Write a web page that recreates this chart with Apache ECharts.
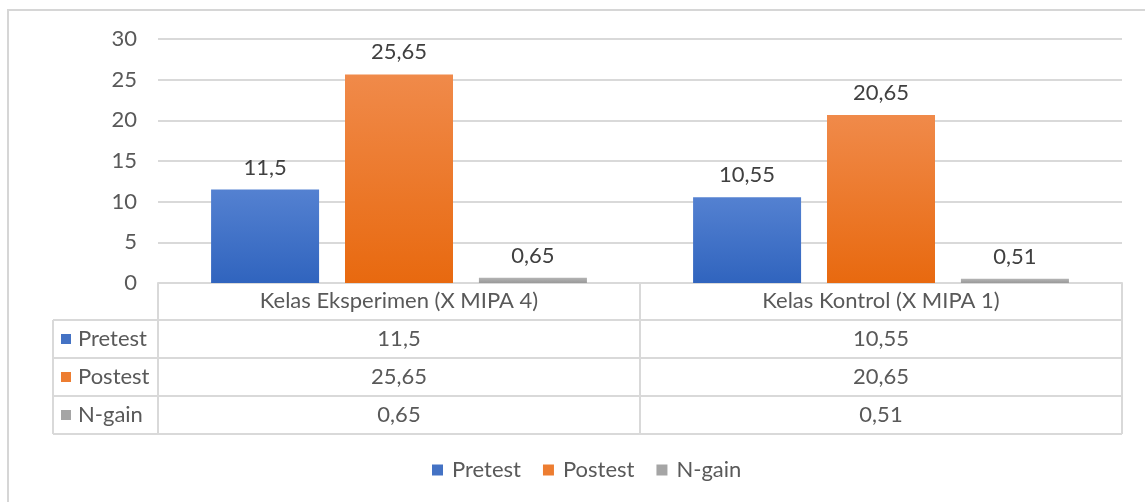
<!DOCTYPE html>
<html>
<head>
<meta charset="utf-8">
<title>Pretest Postest N-gain</title>
<script src="https://cdn.jsdelivr.net/npm/echarts@6/dist/echarts.min.js"></script>
<style>
    html, body { margin: 0; padding: 0; background: #fff; }
    #chart { width: 1145px; height: 502px; }
</style>
</head>
<body>
<div id="chart"></div>
<script>
    var categories = ['Kelas Eksperimen (X MIPA 4)', 'Kelas Kontrol (X MIPA 1)'];
    var seriesNames = ['Pretest', 'Postest', 'N-gain'];
    var pretest = [11.5, 10.55];
    var postest = [25.65, 20.65];
    var ngain = [0.65, 0.51];
    var yMin = 0, yMax = 30, yStep = 5;

    var colors = ['#4472c4', '#ed7d31', '#a5a5a5'];
    var gradTop = ['#5481d1', '#f08a4a', '#b4b4b4'];
    var gradBottom = ['#3064be', '#e8690f', '#999999'];
    var font = 'Lato, "Open Sans", sans-serif';
    var fontSize = 22;
    var textColor = '#595959';
    var lineColor = '#d9d9d9';

    function fmt(v) { return String(v).replace('.', ','); }

    var chart = echarts.init(document.getElementById('chart'));

    var values = [pretest, postest, ngain];
    var series = seriesNames.map(function (name, i) {
        return {
            name: name,
            type: 'bar',
            barWidth: 108,
            barGap: '24%',
            data: values[i],
            itemStyle: {
                color: new echarts.graphic.LinearGradient(0, 0, 0, 1, [
                    { offset: 0, color: gradTop[i] },
                    { offset: 1, color: gradBottom[i] }
                ])
            },
            label: {
                show: true,
                position: 'top',
                distance: 11,
                formatter: function (p) { return fmt(p.value); },
                fontFamily: font,
                fontSize: fontSize,
                color: '#404040'
            }
        };
    });

    chart.setOption({
        animation: false,
        grid: { left: 158, right: 23, top: 39, bottom: 219 },
        legend: {
            data: seriesNames.map(function (n, i) {
                return { name: n, itemStyle: { color: colors[i] } };
            }),
            top: 454,
            left: 427,
            icon: 'rect',
            itemWidth: 11,
            itemHeight: 11,
            itemGap: 22,
            textStyle: { fontFamily: font, fontSize: fontSize, color: textColor, padding: [0, 0, 0, 4] }
        },
        xAxis: {
            type: 'category',
            data: categories,
            axisLine: { lineStyle: { color: lineColor, width: 2 } },
            axisTick: { show: false },
            axisLabel: { margin: 7, fontFamily: font, fontSize: fontSize, color: textColor }
        },
        yAxis: {
            type: 'value',
            min: yMin, max: yMax, interval: yStep,
            axisLine: { show: false },
            axisTick: { show: false },
            axisLabel: { margin: 21, fontFamily: font, fontSize: fontSize, color: textColor },
            splitLine: { lineStyle: { color: lineColor, width: 2 } }
        },
        series: series
    });

    // tabel data di bawah grafik
    function drawTable() {
        var c0 = chart.convertToPixel({ xAxisIndex: 0 }, categories[0]);
        var c1 = chart.convertToPixel({ xAxisIndex: 0 }, categories[1]);
        var step = c1 - c0;
        var left = c0 - step / 2, right = c1 + step / 2;
        var top = chart.convertToPixel({ yAxisIndex: 0 }, 0);
        var headerH = 37, rowH = 38, labelLeft = 53;
        var bottom = top + headerH + rowH * seriesNames.length;
        var els = [];
        var ls = { stroke: lineColor, lineWidth: 2 };

        // bingkai luar
        els.push({ type: 'rect', shape: { x: 8, y: 10, width: 1160, height: 520 }, style: { fill: null, stroke: '#d6d6d6', lineWidth: 2 } });

        // garis vertikal
        [left, left + step, right].forEach(function (x) {
            els.push({ type: 'line', shape: { x1: x, y1: top, x2: x, y2: bottom }, style: ls });
        });
        els.push({ type: 'line', shape: { x1: labelLeft, y1: top + headerH, x2: labelLeft, y2: bottom }, style: ls });

        // garis horizontal
        for (var r = 0; r <= seriesNames.length; r++) {
            var y = top + headerH + r * rowH;
            els.push({ type: 'line', shape: { x1: labelLeft, y1: y, x2: right, y2: y }, style: ls });
        }

        seriesNames.forEach(function (name, i) {
            var cy = top + headerH + i * rowH + rowH / 2;
            els.push({ type: 'rect', shape: { x: labelLeft + 8, y: cy - 5, width: 10, height: 10 }, style: { fill: colors[i] } });
            els.push({ type: 'text', x: labelLeft + 25, y: cy, style: { text: name, fontFamily: font, fontSize: fontSize, fill: textColor, verticalAlign: 'middle' } });
            values[i].forEach(function (v, j) {
                els.push({ type: 'text', x: c0 + j * step, y: cy, style: { text: fmt(v), fontFamily: font, fontSize: fontSize, fill: textColor, align: 'center', verticalAlign: 'middle' } });
            });
        });

        chart.setOption({ graphic: els });
    }
    drawTable();
</script>
</body>
</html>
